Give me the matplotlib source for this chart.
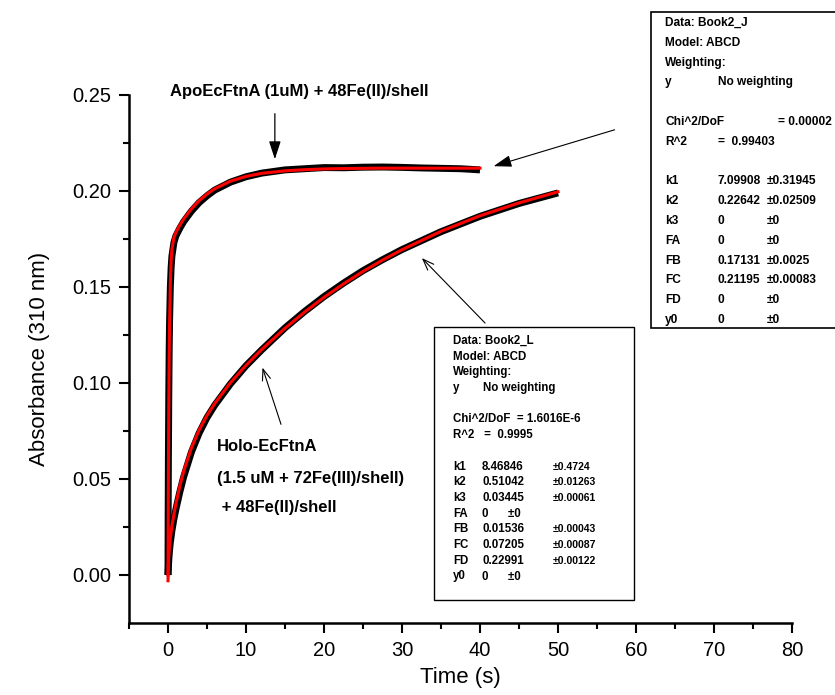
import matplotlib
matplotlib.use("Agg")
import matplotlib.pyplot as plt
from matplotlib.patches import Rectangle, FancyArrowPatch

plt.rcParams["font.family"] = ["Liberation Sans", "DejaVu Sans"]

# ---- data ----
apo_t = [0, 0.02, 0.05, 0.1, 0.15, 0.2, 0.3, 0.4, 0.5, 0.75, 1, 1.5, 2, 3, 4, 5, 6,
         8, 10, 12, 15, 17.5, 20, 22.5, 25, 27.5, 30, 32.5, 35, 37.5, 40]
apo_data = [0, 0.030, 0.060, 0.094, 0.117, 0.132, 0.150, 0.160, 0.166, 0.173, 0.1765,
            0.1805, 0.1840, 0.1895, 0.1940, 0.1975, 0.2005, 0.2046, 0.2074, 0.2093,
            0.2110, 0.2116, 0.2122, 0.2121, 0.2124, 0.2125, 0.2123, 0.2120, 0.2118,
            0.2116, 0.2110]
apo_fit = [0, 0.0227, 0.0513, 0.0873, 0.1128, 0.1307, 0.1525, 0.1637, 0.1696, 0.1757,
           0.1783, 0.1821, 0.1853, 0.1907, 0.1950, 0.1984, 0.2012, 0.2051, 0.2076,
           0.2092, 0.2105, 0.2111, 0.2115, 0.2117, 0.2118, 0.2119, 0.2119, 0.2119,
           0.2119, 0.2119, 0.2119]

holo_t = [0, 0.05, 0.1, 0.2, 0.3, 0.5, 0.75, 1, 1.5, 2, 3, 4, 5, 6, 8, 10, 12, 15,
          17.5, 20, 22.5, 25, 27.5, 30, 35, 40, 45, 50]
holo_data = [0.000, 0.004, 0.008, 0.013, 0.017, 0.023, 0.029, 0.034, 0.043, 0.051,
             0.064, 0.0740, 0.0820, 0.0885, 0.0995, 0.1090, 0.1172, 0.1287, 0.1372,
             0.1450, 0.1520, 0.1585, 0.1642, 0.1695, 0.1788, 0.1868, 0.1935, 0.1990]
holo_fit = [-0.003, 0.0056, 0.0097, 0.0155, 0.0194, 0.0254, 0.0314, 0.0368, 0.0461,
            0.0539, 0.0662, 0.0756, 0.0831, 0.0894, 0.1001, 0.1092, 0.1174, 0.1285,
            0.1369, 0.1446, 0.1516, 0.1581, 0.1640, 0.1694, 0.1790, 0.1871, 0.1938,
            0.1996]

x_ticks = [0, 10, 20, 30, 40, 50, 60, 70, 80]
y_ticks = [0.00, 0.05, 0.10, 0.15, 0.20, 0.25]

box_j = [
    ("Data: Book2_J", "", ""),
    ("Model: ABCD", "", ""),
    ("Weighting:", "", ""),
    ("y", "No weighting", ""),
    ("", "", ""),
    ("Chi^2/DoF", "", "= 0.00002"),
    ("R^2", "=  0.99403", ""),
    ("", "", ""),
    ("k1", "7.09908", "\u00b10.31945"),
    ("k2", "0.22642", "\u00b10.02509"),
    ("k3", "0", "\u00b10"),
    ("FA", "0", "\u00b10"),
    ("FB", "0.17131", "\u00b10.0025"),
    ("FC", "0.21195", "\u00b10.00083"),
    ("FD", "0", "\u00b10"),
    ("y0", "0", "\u00b10"),
]

box_l = [
    ("Data: Book2_L", "", ""),
    ("Model: ABCD", "", ""),
    ("Weighting:", "", ""),
    ("y", "No weighting", ""),
    ("", "", ""),
    ("Chi^2/DoF  = 1.6016E-6", "", ""),
    ("R^2   =  0.9995", "", ""),
    ("", "", ""),
    ("k1", "8.46846", "\u00b10.4724"),
    ("k2", "0.51042", "\u00b10.01263"),
    ("k3", "0.03445", "\u00b10.00061"),
    ("FA", "0      \u00b10", ""),
    ("FB", "0.01536", "\u00b10.00043"),
    ("FC", "0.07205", "\u00b10.00087"),
    ("FD", "0.22991", "\u00b10.00122"),
    ("y0", "0      \u00b10", ""),
]

W, H = 835, 695


def fx(px):
    return px / W


def fy(py):
    return 1 - py / H


fig = plt.figure(figsize=(8.35, 6.95), dpi=100)
ax = fig.add_axes([fx(129), fy(623), fx(792) - fx(129), fy(95) - fy(623)])

ax.plot(apo_t, apo_data, color="black", lw=5, solid_capstyle="butt", zorder=2)
ax.plot(holo_t, holo_data, color="black", lw=5, solid_capstyle="butt", zorder=2)
ax.plot(apo_t, apo_fit, color="#ff0000", lw=2.2, zorder=3)
ax.plot(holo_t, holo_fit, color="#ff0000", lw=2.2, zorder=3)

ax.set_xlim(-5, 80)
ax.set_ylim(-0.025, 0.25)
ax.set_xticks(x_ticks)
ax.set_xticks([-5, 5, 15, 25, 35, 45, 55, 65, 75], minor=True)
ax.set_yticks(y_ticks)
ax.set_yticklabels([f"{v:.2f}" for v in y_ticks])
ax.set_yticks([0.025, 0.075, 0.125, 0.175, 0.225], minor=True)

ax.spines["top"].set_visible(False)
ax.spines["right"].set_visible(False)
for s in ["left", "bottom"]:
    ax.spines[s].set_linewidth(1.8)
ax.tick_params(which="major", direction="out", length=7, width=1.5, labelsize=14.5,
               pad=6)
ax.tick_params(which="minor", direction="out", length=4, width=1.5)
ax.set_xlabel("Time (s)", fontsize=16, labelpad=5)
ax.set_ylabel("Absorbance (310 nm)", fontsize=16, labelpad=16)

# annotations on the curves
ax.text(16.8, 0.2516, "ApoEcFtnA (1uM) + 48Fe(II)/shell", ha="center", va="center",
        fontsize=12, fontweight="bold", clip_on=False)
ax.add_patch(FancyArrowPatch((13.7, 0.2417), (13.7, 0.2151),
                             arrowstyle="-|>,head_length=0.55,head_width=0.18",
                             mutation_scale=20, color="black", lw=0.9))

ax.text(6.3, 0.0667, "Holo-EcFtnA", ha="left", va="center", fontsize=12,
        fontweight="bold")
ax.text(6.3, 0.0500, "(1.5 uM + 72Fe(III)/shell)", ha="left", va="center",
        fontsize=12, fontweight="bold")
ax.text(6.3, 0.0349, " + 48Fe(II)/shell", ha="left", va="center", fontsize=12,
        fontweight="bold")
ax.add_patch(FancyArrowPatch((14.6, 0.0771), (12.0, 0.1094),
                             arrowstyle="->,head_length=0.4,head_width=0.15",
                             mutation_scale=20, color="black", lw=0.8))

ax.add_patch(FancyArrowPatch((40.9, 0.1302), (32.3, 0.1661),
                             arrowstyle="->,head_length=0.4,head_width=0.15",
                             mutation_scale=20, color="black", lw=0.8, clip_on=False))
ax.add_patch(FancyArrowPatch((57.6, 0.2323), (41.4, 0.2125),
                             arrowstyle="-|>,head_length=0.55,head_width=0.18",
                             mutation_scale=20, color="black", lw=0.8, clip_on=False))

# fit result boxes
fig.patches.append(Rectangle((fx(651), fy(328)), fx(900) - fx(651), fy(12) - fy(328),
                             transform=fig.transFigure, fill=True, facecolor="white",
                             edgecolor="black", lw=1.2, zorder=5))
for i, (a, b, c) in enumerate(box_j):
    yy = fy(23 + i * 19.8)
    fig.text(fx(665), yy, a, fontsize=8.6, fontweight="bold", va="center", zorder=6)
    fig.text(fx(718), yy, b, fontsize=8.6, fontweight="bold", va="center", zorder=6)
    cx = 778 if c.startswith("=") else 767
    fig.text(fx(cx), yy, c, fontsize=8.6, fontweight="bold", va="center", zorder=6)

fig.patches.append(Rectangle((fx(434), fy(600)), fx(634) - fx(434), fy(327) - fy(600),
                             transform=fig.transFigure, fill=True, facecolor="white",
                             edgecolor="black", lw=1.0, zorder=5))
for i, (a, b, c) in enumerate(box_l):
    yy = fy(341 + i * 15.7)
    fig.text(fx(453), yy, a, fontsize=8.3, fontweight="bold", va="center", zorder=6)
    bx = 483 if b == "No weighting" else 482
    fig.text(fx(bx), yy, b, fontsize=8.3, fontweight="bold", va="center", zorder=6)
    fig.text(fx(553), yy, c, fontsize=7.5, fontweight="bold", va="center", zorder=6)

fig.savefig("out.png", dpi=100)
